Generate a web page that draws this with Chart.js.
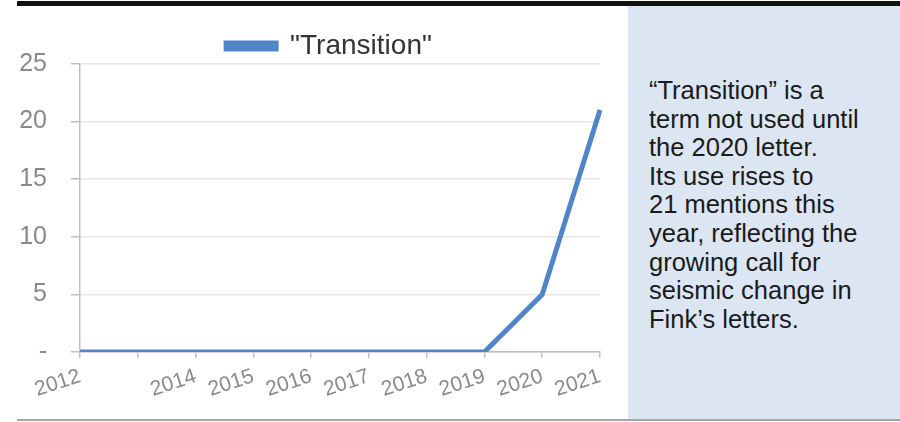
<!DOCTYPE html>
<html>
<head>
<meta charset="utf-8">
<script src="https://cdn.jsdelivr.net/npm/chart.js@4/dist/chart.umd.min.js"></script>
<style>
  html, body { margin: 0; padding: 0; background: #fff; }
  #page { position: relative; width: 900px; height: 422px; overflow: hidden; }
  #topbar { position: absolute; left: 17px; top: 1px; width: 883px; height: 5px; background: #111; }
  #bottomline { position: absolute; left: 17px; top: 419px; width: 883px; height: 2px; background: #a6a6a6; }
  #panel { position: absolute; left: 628px; top: 6px; width: 272px; height: 413px; background: #dce6f2; }
  #note {
    position: absolute; left: 649px; top: 76px; width: 250px;
    font-family: "Liberation Sans", Arial, sans-serif; font-size: 25.5px; line-height: 28.6px; color: #1a1a1a;
  }
  #chartBox { position: absolute; left: 0; top: 0; width: 658px; height: 422px; }
</style>
</head>
<body>
<div id="page">
  <div id="chartBox"><canvas id="chart"></canvas></div>
  <div id="panel"></div>
  <div id="topbar"></div>
  <div id="bottomline"></div>
  <div id="note">“Transition” is a<br>term not used until<br>the 2020 letter.<br>Its use rises to<br>21 mentions this<br>year, reflecting the<br>growing call for<br>seismic change in<br>Fink’s letters.</div>
</div>
<script>
// ── data ──
const years = ['2012', '', '2014', '2015', '2016', '2017', '2018', '2019', '2020', '2021'];
const transition = [0, 0, 0, 0, 0, 0, 0, 0, 5, 21];
const yTicks = [0, 5, 10, 15, 20, 25];

const lineBlue = '#5086c8';
const axisGrey = '#bfbfbf';
const labelGrey = '#8a8a8a';
const fontFam = 'Liberation Sans, Arial, sans-serif';

// legend adds a fixed 10px under itself; trim part of it so the plot sits close under the key
const legendTrim = {
  id: 'legendTrim',
  beforeLayout(chart) {
    const lg = chart.legend;
    if (lg && !lg._trimmed) {
      const fit = lg.fit.bind(lg);
      lg.fit = function () { fit(); this.height -= 6; };
      lg._trimmed = true;
    }
  }
};

const ctx = document.getElementById('chart').getContext('2d');
new Chart(ctx, {
  type: 'line',
  data: {
    labels: years,
    datasets: [{
      label: '"Transition"',
      data: transition,
      borderColor: lineBlue,
      backgroundColor: lineBlue,
      borderWidth: 5,
      pointRadius: 0,
      tension: 0
    }]
  },
  options: {
    responsive: true,
    maintainAspectRatio: false,
    animation: false,
    layout: { padding: { left: 0, right: 0, top: 28, bottom: 0 } },
    plugins: {
      tooltip: { enabled: false },
      legend: {
        position: 'top',
        labels: {
          boxWidth: 50,
          boxHeight: 6,
          padding: 4,
          color: '#333',
          font: { family: fontFam, size: 28 }
        }
      }
    },
    scales: {
      x: {
        offset: false,
        afterFit: s => { s.height = 70; },
        border: { display: true, color: axisGrey, width: 1.5 },
        grid: { drawOnChartArea: false, tickLength: 6, tickColor: axisGrey, lineWidth: 1.5 },
        ticks: {
          autoSkip: false,
          minRotation: 18,
          maxRotation: 18,
          padding: 6,
          color: labelGrey,
          font: { family: fontFam, size: 21 }
        }
      },
      y: {
        min: yTicks[0],
        max: yTicks[yTicks.length - 1],
        afterFit: s => { s.width = 80; },
        afterBuildTicks: s => { s.ticks = yTicks.map(v => ({ value: v })); },
        border: { display: true, color: axisGrey, width: 1.5 },
        grid: { color: '#e6e6e6', lineWidth: 1.5, tickLength: 9, tickColor: axisGrey },
        ticks: {
          padding: 24,
          color: labelGrey,
          font: { family: fontFam, size: 25 },
          callback: v => v === 0 ? '-' : v
        }
      },
      // empty right-hand axis: keeps the plot edge at the panel while the legend stays centred
      yRight: {
        position: 'right',
        display: true,
        afterFit: s => { s.width = 58; },
        grid: { display: false },
        border: { display: false },
        ticks: { display: false }
      }
    }
  },
  plugins: [legendTrim]
});
</script>
</body>
</html>
